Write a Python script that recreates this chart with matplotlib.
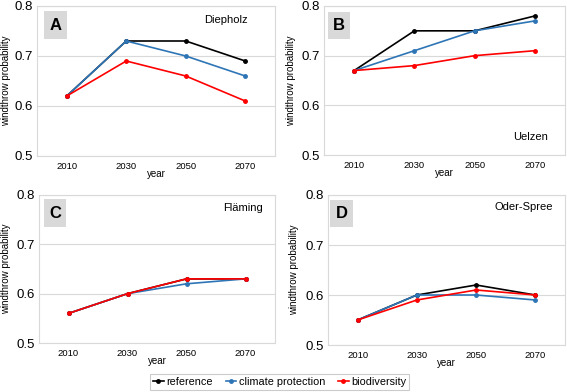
import matplotlib
matplotlib.use("Agg")
import matplotlib.pyplot as plt
from matplotlib.lines import Line2D
from matplotlib.patches import Rectangle

plt.rcParams['font.family'] = ['Liberation Sans', 'DejaVu Sans']

years = ["2010", "2030", "2050", "2070"]
series_names = ["reference", "climate protection", "biodiversity"]
colors = ["#000000", "#2E75B6", "#FF0000"]

panel_letters = ["A", "B", "C", "D"]
panel_names = ["Diepholz", "Uelzen", "Fläming", "Oder-Spree"]

ref_A = [0.62, 0.73, 0.73, 0.69]
clim_A = [0.62, 0.73, 0.70, 0.66]
bio_A = [0.62, 0.69, 0.66, 0.61]

ref_B = [0.67, 0.75, 0.75, 0.78]
clim_B = [0.67, 0.71, 0.75, 0.77]
bio_B = [0.67, 0.68, 0.70, 0.71]

ref_C = [0.56, 0.60, 0.63, 0.63]
clim_C = [0.56, 0.60, 0.62, 0.63]
bio_C = [0.56, 0.60, 0.63, 0.63]

ref_D = [0.55, 0.60, 0.62, 0.60]
clim_D = [0.55, 0.60, 0.60, 0.59]
bio_D = [0.55, 0.59, 0.61, 0.60]

data = [(ref_A, clim_A, bio_A), (ref_B, clim_B, bio_B),
        (ref_C, clim_C, bio_C), (ref_D, clim_D, bio_D)]

W, H = 567, 392
fig = plt.figure(figsize=(W / 100, H / 100), dpi=100)

# pixel boxes: left, right, top, bottom
boxes = [(37, 275, 6, 156), (324, 565, 6, 155), (39, 275, 195, 343), (328, 565, 195, 345)]
ylabel_px = [11, 296, 11, 299]
# letter boxes in pixels: left, right, top, bottom
letter_boxes = [(44, 67, 11, 39), (328, 350, 12, 39), (44, 66, 199, 227), (330, 353, 200, 227)]
# panel name right edge / center y in pixels
name_px = [(248, 20), (548, 137), (263, 208), (553, 207)]

grid_c = "#D9D9D9"
x = list(range(len(years)))

for i, (l, r, t, b) in enumerate(boxes):
    ax = fig.add_axes([l / W, 1 - b / H, (r - l) / W, (b - t) / H])
    ax.set_xlim(-0.5, 3.5)
    ax.set_ylim(0.5, 0.8)
    ax.set_yticks([0.5, 0.6, 0.7, 0.8])
    ax.set_yticklabels(["0.5", "0.6", "0.7", "0.8"], fontsize=9.5)
    ax.set_xticks(x)
    ax.set_xticklabels(years, fontsize=6.8)
    ax.tick_params(length=0, pad=4)
    ax.tick_params(axis='y', pad=3)
    ax.grid(axis='y', color=grid_c, linewidth=0.8)
    ax.set_axisbelow(True)
    for s in ax.spines.values():
        s.set_color(grid_c)
        s.set_linewidth(0.8)
    ax.set_ylabel("windthrow probability", fontsize=7)
    ax.yaxis.set_label_coords((ylabel_px[i] - l) / (r - l), 0.5)
    ax.set_xlabel("year", fontsize=7, labelpad=-1)
    for vals, c in zip(data[i], colors):
        ax.plot(x, vals, color=c, linewidth=1.2, marker='o', markersize=2.5, zorder=3)
    # panel letter box
    bl, br, bt, bb = letter_boxes[i]
    fx0, fy0 = bl / W, 1 - bb / H
    fw, fh = (br - bl) / W, (bb - bt) / H
    fig.patches.append(Rectangle((fx0, fy0), fw, fh, transform=fig.transFigure,
                                 facecolor='#D9D9D9', edgecolor='none', zorder=5))
    fig.text(fx0 + fw / 2, fy0 + fh / 2, panel_letters[i], fontsize=12,
             fontweight='bold', ha='center', va='center', zorder=6)
    nx, ny = name_px[i]
    fig.text(nx / W, 1 - ny / H, panel_names[i], fontsize=8, ha='right', va='center')

handles = [Line2D([0], [0], color=c, linewidth=1.2, marker='o', markersize=2.5)
           for c in colors]
leg = fig.legend(handles, series_names, loc='center', bbox_to_anchor=(0.493, 0.026),
                 ncol=3, fontsize=7.8, frameon=True, fancybox=False, handlelength=1.0,
                 handletextpad=0.2, columnspacing=1.2, borderpad=0.3)
leg.get_frame().set_edgecolor('#BFBFBF')
leg.get_frame().set_linewidth(0.8)

fig.savefig("out.png", dpi=100)
